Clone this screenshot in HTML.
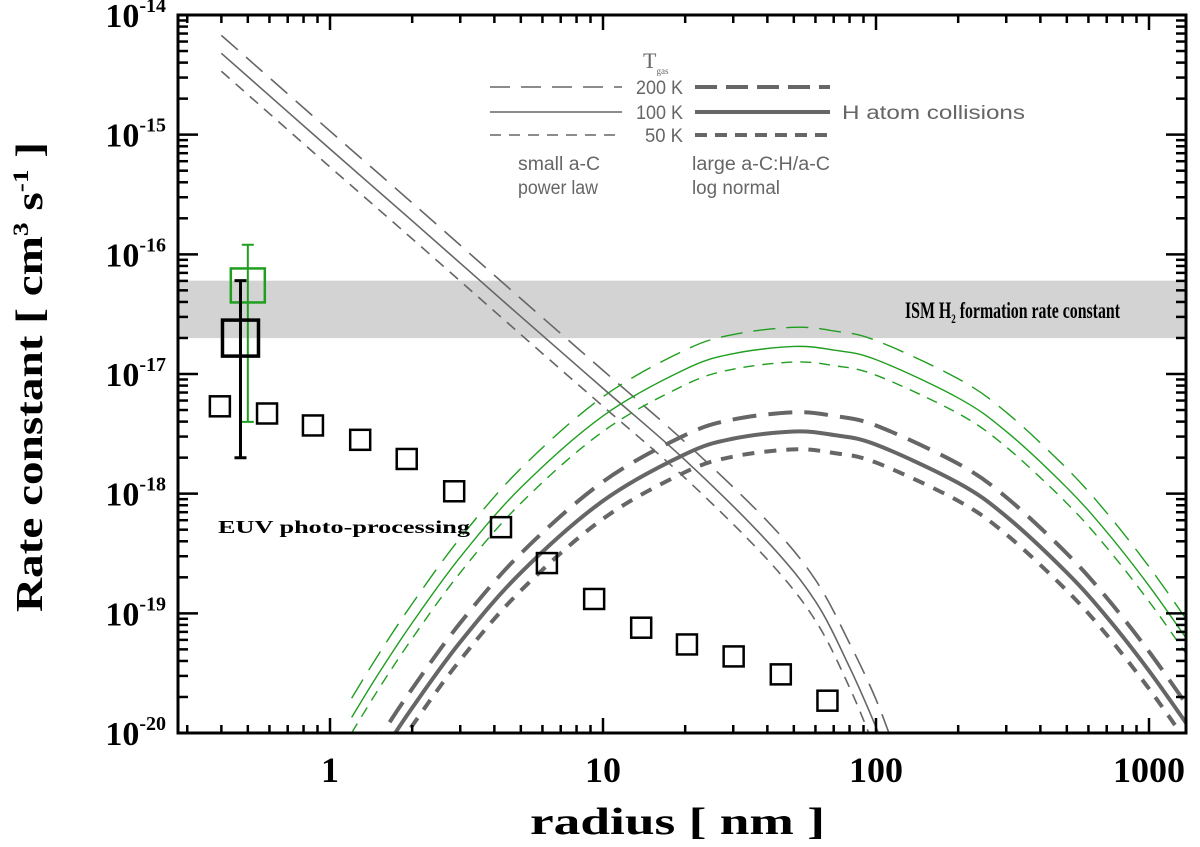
<!DOCTYPE html>
<html><head><meta charset="utf-8"><style>
body{margin:0;background:#fff}
svg{display:block}
</style></head><body>
<svg id="c" width="1200" height="847" xmlns="http://www.w3.org/2000/svg">
<defs><clipPath id="clip"><rect x="178" y="15" width="1008" height="718"/></clipPath></defs>
<g id="plot" clip-path="url(#clip)"></g>
<g id="axes"></g>
</svg>
<script>
// ---- data (log10 of rate constant) ----
const plRadii = [0.4,1,2,5,10,20,40,60,80,100,120];
const pl200 = [-14.17,-14.97,-15.57,-16.37,-16.97,-17.57,-18.23,-18.72,-19.25,-19.72,-20.2];
const pl100 = [-14.32,-15.12,-15.72,-16.52,-17.12,-17.72,-18.40,-18.90,-19.45,-19.95,-20.4];
const pl50  = [-14.47,-15.27,-15.87,-16.67,-17.27,-17.87,-18.55,-19.06,-19.62,-20.15,-20.6];
const lnRadii = [1.2,1.5,2,3,5,10,20,30,50,70,100,200,300,500,700,1000,1400];
const gray200 = [-20.42,-20.06,-19.63,-19.08,-18.50,-17.90,-17.51,-17.38,-17.32,-17.35,-17.43,-17.75,-18.03,-18.50,-18.87,-19.32,-19.79];
const gray100 = [-20.58,-20.22,-19.79,-19.24,-18.66,-18.06,-17.67,-17.54,-17.48,-17.51,-17.59,-17.91,-18.19,-18.66,-19.03,-19.48,-19.95];
const gray50  = [-20.73,-20.37,-19.94,-19.39,-18.81,-18.21,-17.82,-17.69,-17.63,-17.66,-17.74,-18.06,-18.34,-18.81,-19.18,-19.63,-20.10];
const green200 = [-19.71,-19.35,-18.92,-18.37,-17.79,-17.19,-16.80,-16.67,-16.61,-16.64,-16.72,-17.04,-17.32,-17.79,-18.16,-18.61,-19.08];
const green100 = [-19.87,-19.51,-19.08,-18.53,-17.95,-17.35,-16.96,-16.83,-16.77,-16.80,-16.88,-17.20,-17.48,-17.95,-18.32,-18.77,-19.24];
const green50  = [-20.00,-19.64,-19.21,-18.66,-18.08,-17.48,-17.09,-16.96,-16.90,-16.93,-17.01,-17.33,-17.61,-18.08,-18.45,-18.90,-19.37];
const euvRadii = [0.395,0.588,0.866,1.29,1.91,2.85,4.23,6.23,9.28,13.8,20.3,30.1,44.8,66.4];
const euvLogK  = [-17.27,-17.33,-17.43,-17.55,-17.71,-17.98,-18.28,-18.58,-18.88,-19.12,-19.26,-19.36,-19.51,-19.73];
const expBlack = [0.47,-16.70,-16.22,-17.70]; // radius, logK, errHi, errLo
const expGreen = [0.50,-16.26,-15.92,-17.40];
const ismBand = [-16.22,-16.70];
const yTickExp = [-14,-15,-16,-17,-18,-19,-20];
const xTickLabels = ["1","10","100","1000"];
const xTickVals = [1,10,100,1000];

// ---- axes functions ----
const X0=178,X1=1186,Y0=15,Y1=733;
const xs = r => 330 + 273*Math.log10(r);
const ys = lk => Y0 + (-14 - lk)*(Y1-Y0)/6;
const NS="http://www.w3.org/2000/svg";
const plot=document.getElementById('plot'), axes=document.getElementById('axes');
function el(tag,attrs,parent){const e=document.createElementNS(NS,tag);for(const k in attrs)e.setAttribute(k,attrs[k]);parent.appendChild(e);return e;}
function smooth(pts){let d=`M${pts[0][0]},${pts[0][1]}`;for(let i=0;i<pts.length-1;i++){const p0=pts[i-1]||pts[i],p1=pts[i],p2=pts[i+1],p3=pts[i+2]||p2;
d+=` C${p1[0]+(p2[0]-p0[0])/6},${p1[1]+(p2[1]-p0[1])/6} ${p2[0]-(p3[0]-p1[0])/6},${p2[1]-(p3[1]-p1[1])/6} ${p2[0]},${p2[1]}`;}return d;}

const band=el('rect',{x:X0,y:ys(ismBand[0]),width:X1-X0,height:ys(ismBand[1])-ys(ismBand[0]),fill:'#d3d3d3'},plot);



function curve(radii,vals,color,w,dash,name){
  const p=el('path',{d:smooth(radii.map((r,i)=>[xs(r),ys(vals[i])])),fill:'none',stroke:color,'stroke-width':w,'stroke-dasharray':dash},plot);
  
  
}
const G='#666', GR='#1f9e1f';
curve(plRadii,pl200,G,1.6,'22 11','power-law-200k');
curve(plRadii,pl100,G,1.6,'none','power-law-100k');
curve(plRadii,pl50,G,1.6,'11 8','power-law-50k');
curve(lnRadii,green200,GR,1.4,'22 11','green-lognormal-200k');
curve(lnRadii,green100,GR,1.4,'none','green-lognormal-100k');
curve(lnRadii,green50,GR,1.4,'11 8','green-lognormal-50k');
curve(lnRadii,gray200,G,4,'24 12','gray-lognormal-200k');
curve(lnRadii,gray100,G,4,'none','gray-lognormal-100k');
curve(lnRadii,gray50,G,4,'12 10','gray-lognormal-50k');

euvRadii.forEach((r,i)=>{
  const s=el('rect',{x:xs(r)-10,y:ys(euvLogK[i])-10,width:20,height:20,fill:'none',stroke:'#000','stroke-width':2.5},plot);
  
  
});
function expPoint(d,color,size,w,name){
  const x=xs(d[0]);
  const g=el('g',{},plot);
  
  
  el('line',{x1:x,x2:x,y1:ys(d[2]),y2:ys(d[3]),stroke:color,'stroke-width':w},g);
  el('line',{x1:x-6,x2:x+6,y1:ys(d[2]),y2:ys(d[2]),stroke:color,'stroke-width':w},g);
  el('line',{x1:x-6,x2:x+6,y1:ys(d[3]),y2:ys(d[3]),stroke:color,'stroke-width':w},g);
  el('rect',{x:x-size/2,y:ys(d[1])-size/2,width:size,height:size,fill:'none',stroke:color,'stroke-width':w+0.5},g);
}
expPoint(expGreen,GR,34,2,'green-experiment-point');
expPoint(expBlack,'#000',36,3,'black-experiment-point');

el('rect',{x:X0,y:Y0,width:X1-X0,height:Y1-Y0,fill:'none',stroke:'#000','stroke-width':3},axes);
for(let e=-20;e<=-14;e++){
  for(let m=1;m<10;m++){
    if(e===-14&&m>1)break;
    const y=ys(e+Math.log10(m)); const L=m===1?20:10;
    el('line',{x1:X0,x2:X0+L,y1:y,y2:y,stroke:'#000','stroke-width':2.5},axes);
    el('line',{x1:X1,x2:X1-L,y1:y,y2:y,stroke:'#000','stroke-width':2.5},axes);
  }
}
yTickExp.forEach(e=>{
  const t=el('text',{x:166,y:ys(e)+12,'text-anchor':'end','font-family':'Liberation Serif, serif','font-weight':'bold','font-size':34},axes);
  
  
  t.innerHTML=`10<tspan dy="-15" font-size="20">${e}</tspan>`;
});
for(let e=-1;e<=3;e++){for(let m=1;m<10;m++){const r=m*Math.pow(10,e);const x=xs(r);if(x<X0+2||x>X1-2)continue;const L=m===1?15:8;
  el('line',{x1:x,x2:x,y1:Y1,y2:Y1-L,stroke:'#000','stroke-width':2.5},axes);
  el('line',{x1:x,x2:x,y1:Y0,y2:Y0+L,stroke:'#000','stroke-width':2.5},axes);}}
xTickVals.forEach((v,i)=>{
  const t=el('text',{x:xs(v),y:782,'text-anchor':'middle','font-family':'Liberation Serif, serif','font-weight':'bold','font-size':36},axes);
  
  
  t.textContent=xTickLabels[i];
});
</script>
<svg style="position:absolute;left:0;top:0" width="1200" height="847" xmlns="http://www.w3.org/2000/svg">
<text x="530" y="834" textLength="295" lengthAdjust="spacingAndGlyphs" font-family="Liberation Serif, serif" font-weight="bold" font-size="38">radius [ nm ]</text>
<text transform="translate(42,612) rotate(-90)" textLength="470" lengthAdjust="spacingAndGlyphs" font-family="Liberation Serif, serif" font-weight="bold" font-size="38">Rate constant [ cm<tspan dy="-14" font-size="22">3</tspan><tspan dy="14"> s</tspan><tspan dy="-14" font-size="22">-1</tspan><tspan dy="14"> ]</tspan></text>
<text x="905" y="318" font-family="Liberation Serif, serif" font-weight="bold" font-size="23" textLength="215" lengthAdjust="spacingAndGlyphs">ISM H<tspan dy="5" font-size="13">2</tspan><tspan dy="-5"> formation rate constant</tspan></text>
<text x="218" y="533" textLength="252" lengthAdjust="spacingAndGlyphs" font-family="Liberation Serif, serif" font-weight="bold" font-size="18">EUV photo-processing</text>
<g font-family="Liberation Sans, sans-serif" font-size="19" fill="#666">
<text x="643" y="68" font-family="Liberation Serif, serif" font-size="22">T<tspan dy="6" font-size="9">gas</tspan></text>
<line x1="490" x2="622" y1="87" y2="87" stroke="#666" stroke-width="1.6" stroke-dasharray="20 11"/>
<line x1="490" x2="622" y1="112" y2="112" stroke="#666" stroke-width="1.6"/>
<line x1="490" x2="622" y1="135" y2="135" stroke="#666" stroke-width="1.6" stroke-dasharray="11 8"/>
<text x="636" y="94" textLength="47" lengthAdjust="spacingAndGlyphs">200 K</text><text x="636" y="119" textLength="47" lengthAdjust="spacingAndGlyphs">100 K</text><text x="645" y="142" textLength="38" lengthAdjust="spacingAndGlyphs">50 K</text>
<line x1="695" x2="830" y1="87" y2="87" stroke="#666" stroke-width="4" stroke-dasharray="22 9"/>
<line x1="695" x2="830" y1="112" y2="112" stroke="#666" stroke-width="4"/>
<line x1="695" x2="830" y1="135" y2="135" stroke="#666" stroke-width="4" stroke-dasharray="12 8"/>
<text x="842" y="119" textLength="183" lengthAdjust="spacingAndGlyphs">H atom collisions</text>
<text x="518" y="170" textLength="82" lengthAdjust="spacingAndGlyphs">small a-C</text><text x="518" y="194" textLength="80" lengthAdjust="spacingAndGlyphs">power law</text>
<text x="692" y="170" textLength="138" lengthAdjust="spacingAndGlyphs">large a-C:H/a-C</text><text x="692" y="194" textLength="88" lengthAdjust="spacingAndGlyphs">log normal</text>
</g>
</svg>
</body></html>
